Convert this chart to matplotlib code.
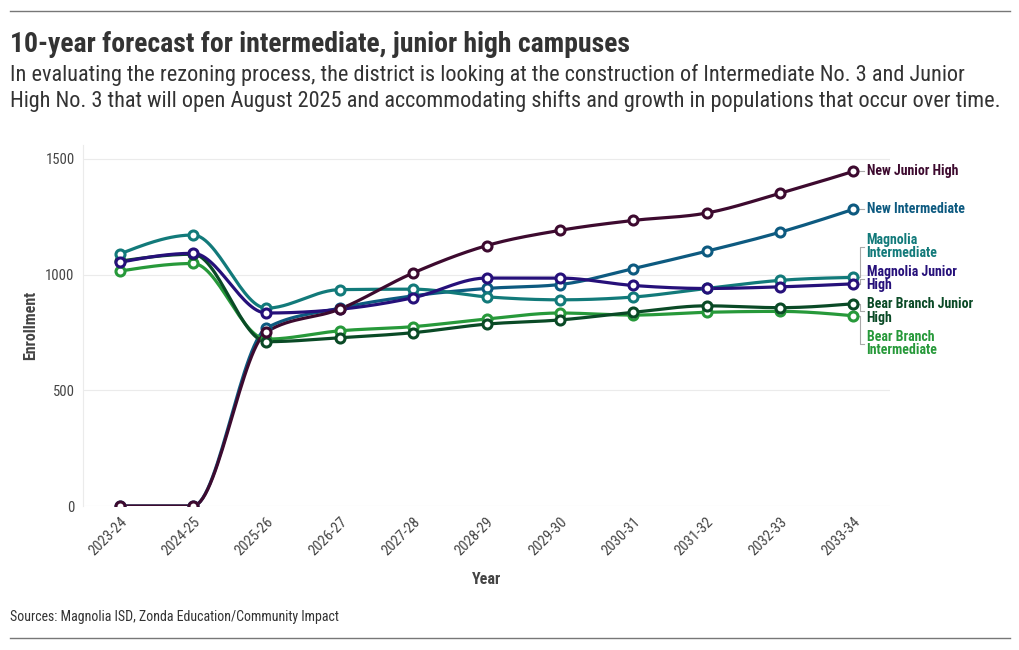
import numpy as np
import matplotlib
matplotlib.use("Agg")
import matplotlib.pyplot as plt
from matplotlib.lines import Line2D

plt.rcParams['font.family'] = ['Roboto Condensed', 'Liberation Sans Narrow', 'Roboto', 'DejaVu Sans']

years = ['2023-24', '2024-25', '2025-26', '2026-27', '2027-28', '2028-29',
         '2029-30', '2030-31', '2031-32', '2032-33', '2033-34']

new_int = [0, 0, 769, 855, 908, 940, 957, 1026, 1101, 1183, 1282]
bb_int = [1015, 1048, 721, 757, 775, 808, 834, 825, 837, 841, 822]
bb_jh = [1058, 1088, 710, 727, 749, 786, 804, 837, 865, 857, 874]
mag_int = [1089, 1171, 855, 935, 937, 904, 891, 903, 940, 975, 988]
mag_jh = [1053, 1092, 834, 850, 900, 985, 985, 953, 940, 947, 960]
new_jh = [0, 0, 752, 851, 1007, 1125, 1191, 1234, 1266, 1351, 1446]

names = ['New Intermediate', 'Bear Branch\nIntermediate', 'Bear Branch Junior\nHigh',
         'Magnolia\nIntermediate', 'Magnolia Junior\nHigh', 'New Junior High']
series = [new_int, bb_int, bb_jh, mag_int, mag_jh, new_jh]
colors = ['#0d5a80', '#27993a', '#0a4a26', '#127a7a', '#26107a', '#3d0a2f']
# where the end labels sit (data units)
label_y = [1283, 702, 842, 1121, 983, 1447]


def monotone_x(x, y, n=30):
    # d3 curveMonotoneX style smoothing
    x = np.asarray(x, float); y = np.asarray(y, float)
    h = np.diff(x); s = np.diff(y) / h
    t = np.zeros(len(x))
    for i in range(1, len(x) - 1):
        p = (s[i - 1] * h[i] + s[i] * h[i - 1]) / (h[i - 1] + h[i])
        t[i] = (np.sign(s[i - 1]) + np.sign(s[i])) * min(abs(s[i - 1]), abs(s[i]), 0.5 * abs(p))
    t[0] = (3 * s[0] - t[1]) / 2
    t[-1] = (3 * s[-1] - t[-2]) / 2
    xs, ys = [], []
    for i in range(len(x) - 1):
        u = np.linspace(0, 1, n, endpoint=False)
        h00 = 2*u**3 - 3*u**2 + 1; h10 = u**3 - 2*u**2 + u
        h01 = -2*u**3 + 3*u**2; h11 = u**3 - u**2
        xs.append(x[i] + u * h[i])
        ys.append(h00*y[i] + h10*h[i]*t[i] + h01*y[i+1] + h11*h[i]*t[i+1])
    xs.append([x[-1]]); ys.append([y[-1]])
    return np.concatenate(xs), np.concatenate(ys)


fig = plt.figure(figsize=(10.2, 6.5), dpi=100)
ax = fig.add_axes([83/1020, 1 - 506/650, (890 - 83)/1020, (506 - 145)/650])

xi = np.arange(len(years))
for vals, col in zip(series, colors):
    sx, sy = monotone_x(xi, vals)
    ax.plot(sx, sy, color=col, lw=2.3, solid_capstyle='round', zorder=3)
    ax.plot(xi, vals, 'o', ms=6.5, mfc='white', mec=col, mew=2.2, zorder=4)

ax.set_xlim(-0.5, 10.5)
ax.set_ylim(0, 1560)
ax.set_yticks([0, 500, 1000, 1500])
ax.set_xticks(xi)
ax.set_xticklabels(years, rotation=45, ha='right', rotation_mode='anchor')
ax.tick_params(axis='both', length=0, labelsize=10.5, colors='#444444', pad=6)
ax.tick_params(axis='x', pad=6)
ax.grid(axis='y', color='#ebebeb', lw=0.8)
ax.set_axisbelow(True)
for sp in ['top', 'right', 'bottom']:
    ax.spines[sp].set_visible(False)
ax.spines['left'].set_color('#ebebeb')
ax.set_xlabel('Year', fontsize=11.5, fontweight='bold', color='#444444', labelpad=10)
ax.set_ylabel('Enrollment', fontsize=11.5, fontweight='bold', color='#444444', labelpad=5)

# end labels with leader lines
px_per_x = (853 - 120) / 10
for vals, col, nm, ly in zip(series, colors, names, label_y):
    ey = vals[-1]
    ax.annotate(nm, xy=(10, ly), xytext=(9.5, 0), textcoords='offset points',
                fontsize=10, fontweight='bold', color=col, va='center', ha='left',
                linespacing=0.95, annotation_clip=False)
    bx = 10 + 7 / px_per_x
    ax.add_line(Line2D([10 + 5 / px_per_x, bx, bx, 10 + 11 / px_per_x],
                       [ey, ey, ly, ly], color='#aaaaaa', lw=0.8, clip_on=False, zorder=2))

# header / footer
fig.add_artist(Line2D([10/1020, 1010/1020], [1 - 11/650, 1 - 11/650], color='#777777', lw=1))
fig.add_artist(Line2D([10/1020, 1010/1020], [1 - 638/650, 1 - 638/650], color='#777777', lw=1))
fig.text(10/1020, 1 - 45/650, '10-year forecast for intermediate, junior high campuses',
         fontsize=20, fontweight='bold', color='#333333', va='center')
fig.text(10/1020, 1 - 88/650,
         'In evaluating the rezoning process, the district is looking at the construction of Intermediate No. 3 and Junior\n'
         'High No. 3 that will open August 2025 and accommodating shifts and growth in populations that occur over time.',
         fontsize=16, color='#333333', va='center', linespacing=1.2)
fig.text(10/1020, 1 - 617/650, 'Sources: Magnolia ISD, Zonda Education/Community Impact',
         fontsize=10, color='#333333', va='center')

fig.savefig('out.png', dpi=100)
